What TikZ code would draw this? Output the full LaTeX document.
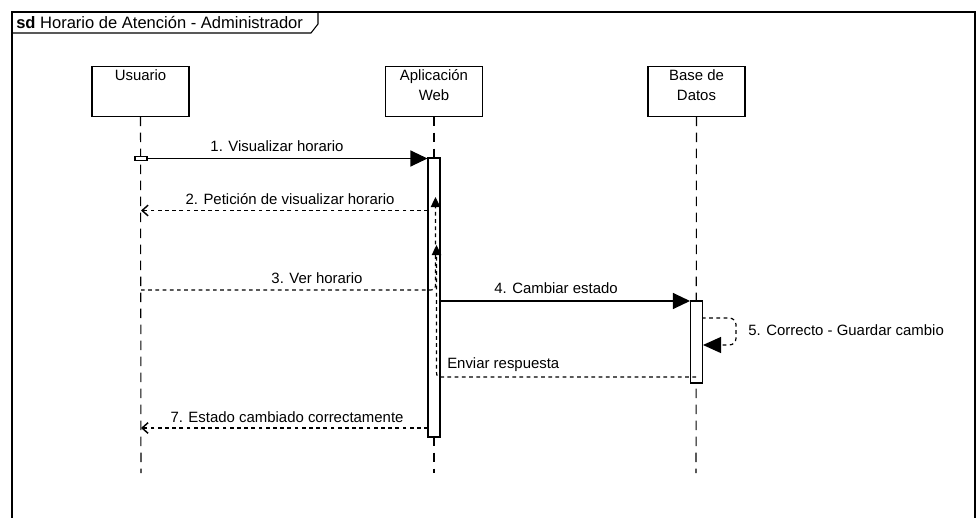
\documentclass[tikz,border=0pt]{standalone}
\usepackage{fontspec}
\setmainfont{Liberation Sans}
\usetikzlibrary{arrows.meta}
\begin{document}
\begin{tikzpicture}[x=0.75pt,y=-0.75pt,
  every node/.style={font=\fontsize{11.2}{15}\selectfont},
  lbox/.style={draw,line width=0.8pt,minimum width=72.75pt,minimum height=37pt,inner sep=0pt},
  lbl/.style={anchor=north,align=center,inner sep=0pt},
  lifeline/.style={line width=0.8pt,dash pattern=on 7pt off 5pt},
  actbox/.style={draw,line width=0.8pt,fill=white,minimum width=9pt,inner sep=0pt},
  call/.style={line width=0.8pt,-{Triangle[length=12.75pt,width=12pt]}},
  ret/.style={line width=0.9pt,dash pattern=on 2.8pt off 2.6pt,-{Straight Barb[length=4.5pt,width=8pt,line width=1.1pt]}},
  retsmall/.style={line width=0.9pt,dash pattern=on 2.8pt off 2.6pt,-{Triangle[length=7.5pt,width=7pt]}},
  msg/.style={inner sep=0pt}]
\useasboundingbox (0,0) rectangle (976,518);
% frame
\draw[line width=0.8pt] (12,518) -- (12,12) -- (975,12) -- (975,518);
\draw[line width=0.8pt] (12,33) -- (311,33) -- (318,24) -- (318,12);
\node[anchor=west,inner sep=0pt,font=\fontsize{12.4}{15}\selectfont] (title) at (16,22) {\textbf{sd} Horario de Atención - Administrador};
% lifeline boxes
\node[lbox] (u) at (140.5,91.5) {};
\node[lbox] (a) at (434,91.5) {};
\node[lbox] (b) at (696.5,91.5) {};
\node[lbl] (ut) at ([yshift=-2.5pt]u.north) {Usuario};
\node[lbl] (at) at ([yshift=-2.5pt]a.north) {Aplicación\\Web};
\node[lbl] (bt) at ([yshift=-2.5pt]b.north) {Base de\\Datos};
\coordinate (uend) at (141,473);
\coordinate (aend) at (434,473);
\coordinate (bend) at (696,473);
\draw[lifeline] (u.south) -- (uend);
\draw[lifeline] (a.south) -- (aend);
\draw[lifeline] (b.south) -- (bend);
% activations
\node[actbox,minimum height=209.25pt] (aa) at (434,297.5) {};
\node[actbox,minimum height=61.5pt] (ba) at (696.5,342) {};
\node[draw,line width=0.8pt,fill=white,minimum width=9pt,minimum height=3pt,inner sep=0pt] (ua) at (141,158.5) {};
% coordinates
\coordinate (r2a) at (428,210.5);
\coordinate (r2u) at (141,210.5);
\coordinate (r3u) at (141,290);
\coordinate (r3k) at (431,290);
\coordinate (r3t) at (435.5,197);
\coordinate (r4s) at (440,301);
\coordinate (sS) at (702,318);
\coordinate (sE) at (703,345);
\coordinate (erS) at (696,377);
\coordinate (erK) at (441,377);
\coordinate (erT) at (436.5,245);
\coordinate (r7a) at (428,428);
\coordinate (r7u) at (141,428);
% 1
\draw[call] (ua.east) -- (ua.east -| aa.west);
\node[msg] (m1) at (277,146) {1. Visualizar horario};
% 2
\draw[ret] (r2a) -- (r2u);
\node[msg] (m2) at (290,199) {2. Petición de visualizar horario};
% 3
\draw[retsmall] (r3u) -- (r3k) .. controls (434,290) and (435.5,289) .. (435.5,286) -- (r3t);
\node[msg] (m3) at (317,278) {3. Ver horario};
% 4
\draw[call] (r4s) -- (r4s -| ba.west);
\node[msg] (m4) at (556,288) {4. Cambiar estado};
% 5 self
\draw[line width=0.9pt,dash pattern=on 2.8pt off 2.6pt,rounded corners=5pt,-{Triangle[length=13.5pt,width=12pt]}] (sS) -- (736,318) -- (736,345) -- (sE);
\node[msg,anchor=west] (m5) at (748,330) {5. Correcto - Guardar cambio};
% enviar respuesta
\draw[retsmall] (erS) -- (erK) .. controls (437.5,377) and (436.5,376) .. (436.5,372) -- (erT);
\node[msg,anchor=west] (m6) at (447,365) {Enviar respuesta};
% 7
\draw[ret] (r7a) -- (r7u);
\node[msg] (m7) at (287,417) {7. Estado cambiado correctamente};
\end{tikzpicture}
\end{document}
